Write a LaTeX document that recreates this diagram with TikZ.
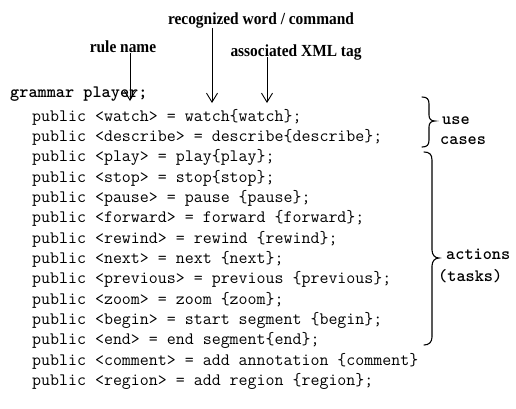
\documentclass[tikz,border=0pt]{standalone}
\usepackage{fontspec}
\newfontfamily\labfont{Liberation Serif}
\usetikzlibrary{arrows.meta}
\begin{document}
\begin{tikzpicture}[x=1bp,y=-1bp,
  code/.style={font=\fontsize{17.5}{20}\selectfont\ttfamily, inner sep=0pt, anchor=base west},
  bcode/.style={font=\fontsize{17.5}{20}\selectfont\ttfamily\bfseries\addfontfeatures{FakeBold=1.6}, inner sep=0pt, anchor=base west},
  lab/.style={font=\fontsize{17}{20}\selectfont\labfont\bfseries, inner sep=0pt, xscale=0.91, transform shape},
  arr/.style={line width=0.9bp, -{Straight Barb[length=9bp,width=11bp,line width=0.9bp]}},
  brace/.style={line width=1.1bp, line cap=round}]
\useasboundingbox (0,0) rectangle (516,408);
% labels
\node[lab] (rec) at (261,20) {recognized word / command};
\node[lab] (rule) at (123,47) {rule name};
\node[lab] (xml) at (296,52) {associated XML tag};
% code
\node[bcode] (g) at (10,97) {grammar player;};
\def\lsp{20.35}
\foreach \t [count=\i from 0] in {%
  {public <watch> = watch\{watch\};},
  {public <describe> = describe\{describe\};},
  {public <play> = play\{play\};},
  {public <stop> = stop\{stop\};},
  {public <pause> = pause \{pause\};},
  {public <forward> = forward \{forward\};},
  {public <rewind> = rewind \{rewind\};},
  {public <next> = next \{next\};},
  {public <previous> = previous \{previous\};},
  {public <zoom> = zoom \{zoom\};},
  {public <begin> = start segment \{begin\};},
  {public <end> = end segment\{end\};},
  {public <comment> = add annotation \{comment\}},
  {public <region> = add region \{region\};}}
  \node[code] (c\i) at (32,121+\i*\lsp) {\t};
% arrows
\coordinate (t1) at (130,101);
\coordinate (t2) at (212,103);
\coordinate (t3) at (267,103);
\coordinate (s3) at (267,57);
\draw[arr] (rule.south -| t1) -- (t1);
\draw[arr] (rec.south -| t2) -- (t2);
\draw[arr] (s3) -- (t3);
% braces
\draw[brace] (422,97) .. controls (427,97) and (429,99) .. (429,104) -- (429,115)
  .. controls (429,119) and (431,121) .. (435,121)
  .. controls (431,121) and (429,123) .. (429,127) -- (429,140)
  .. controls (429,145) and (427,147) .. (422,147);
\draw[brace] (424,152) .. controls (429,152) and (432,154) .. (432,160) -- (432,250)
  .. controls (432,255) and (435,258) .. (439,258)
  .. controls (435,258) and (432,261) .. (432,266) -- (432,337)
  .. controls (432,342) and (429,345) .. (424,345);
\node[bcode] (uc1) at (442,124) {use};
\node[bcode] (uc2) at (440,144) {cases};
\node[bcode] (a1) at (446,259) {actions};
\node[bcode] (a2) at (438,281) {(tasks)};
\end{tikzpicture}
\end{document}
